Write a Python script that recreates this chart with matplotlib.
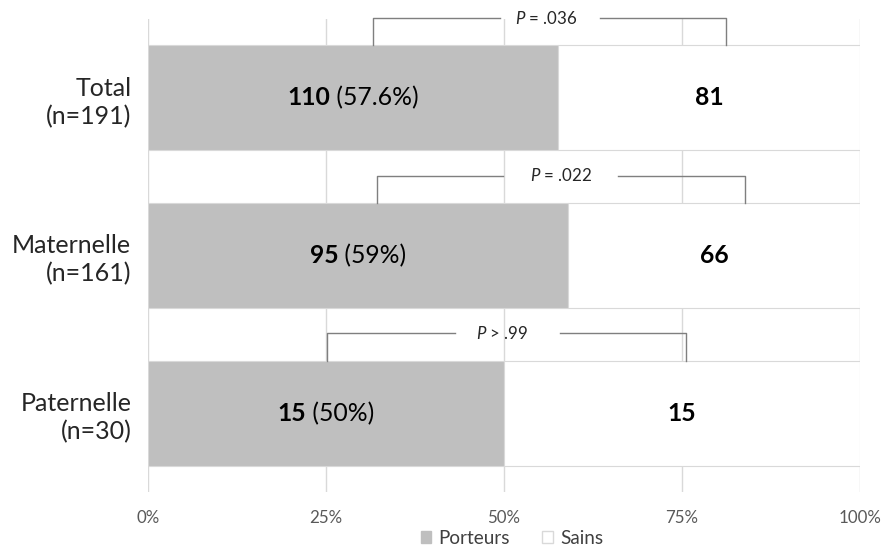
import matplotlib.pyplot as plt
import numpy as np
from matplotlib.offsetbox import TextArea, HPacker, AnnotationBbox
from matplotlib.patches import Patch

# donnees
categories = ["Total\n(n=191)", "Maternelle\n(n=161)", "Paternelle\n(n=30)"]
porteurs = [110, 95, 15]
sains = [81, 66, 15]
pct_labels = ["57.6%", "59%", "50%"]
p_labels = ["$P$ = .036", "$P$ = .022", "$P$ > .99"]
xticks_labels = ["0%", "25%", "50%", "75%", "100%"]

# crochets : (gauche, fin trait gauche, debut trait droit, droite, centre texte) en %
brackets = [
    (31.6, 49.4, 63.5, 81.2, 56.0),
    (32.2, 49.9, 66.0, 83.8, 58.0),
    (25.1, 43.1, 57.9, 75.6, 49.7),
]

plt.rcParams['font.family'] = ['Lato', 'DejaVu Sans']
plt.rcParams['mathtext.fontset'] = 'custom'
plt.rcParams['mathtext.it'] = 'Lato:italic'
plt.rcParams['mathtext.rm'] = 'Lato'

fig = plt.figure(figsize=(8.84, 5.49), dpi=100)
ax = fig.add_axes([148 / 884, 1 - 492 / 549, 712 / 884, 473 / 549])

porteurs = np.array(porteurs)
sains = np.array(sains)
total = porteurs + sains
f_port = porteurs / total * 100
f_sain = sains / total * 100
y = np.arange(len(categories))
h = 0.665

ax.barh(y, f_port, height=h, color='#bfbfbf', edgecolor='#d9d9d9', linewidth=0.8, zorder=2)
ax.barh(y, f_sain, left=f_port, height=h, color='white', edgecolor='#d9d9d9', linewidth=0.8, zorder=2)

ax.set_xlim(0, 100)
ax.set_ylim(2.5, -0.5)
ax.set_xticks([0, 25, 50, 75, 100])
ax.set_xticklabels(xticks_labels, color='#595959', fontsize=12.2)
ax.set_yticks(y)
ax.set_yticklabels(categories, fontsize=18, color='#262626', linespacing=1.25)
ax.tick_params(axis='both', length=0)
ax.tick_params(axis='y', pad=12)
ax.tick_params(axis='x', pad=13)
for s in ax.spines.values():
    s.set_visible(False)
ax.grid(axis='x', color='#d9d9d9', linewidth=1, zorder=0)
ax.set_axisbelow(True)

# etiquettes des barres
for i in range(len(categories)):
    box = HPacker(children=[
        TextArea(str(porteurs[i]), textprops=dict(fontsize=17.8, fontweight='bold', color='black')),
        TextArea(" (" + pct_labels[i] + ")", textprops=dict(fontsize=17.8, color='black')),
    ], align='baseline', pad=0, sep=0)
    ab = AnnotationBbox(box, (f_port[i] / 2, y[i]), frameon=False, box_alignment=(0.5, 0.5), zorder=5)
    ax.add_artist(ab)
    ax.text(f_port[i] + f_sain[i] / 2, y[i], str(sains[i]), ha='center', va='center',
            fontsize=17.8, fontweight='bold', color='black', zorder=5)

# crochets P
for i, (xl, g1, g2, xr, xt) in enumerate(brackets):
    top = y[i] - 0.5 - 0.006
    bot = y[i] - h / 2
    kw = dict(color='#7f7f7f', linewidth=1, clip_on=False, zorder=4)
    ax.plot([xl, xl, g1], [bot, top, top], **kw)
    ax.plot([g2, xr, xr], [top, top, bot], **kw)
    ax.text(xt, top, p_labels[i], ha='center', va='center', fontsize=12.2, color='#262626', clip_on=False)

handles = [Patch(facecolor='#bfbfbf', edgecolor='#bfbfbf', label='Porteurs'),
           Patch(facecolor='white', edgecolor='#d9d9d9', label='Sains')]
fig.legend(handles=handles, loc='center', bbox_to_anchor=(512 / 884, 1 - 538 / 549), ncol=2,
           frameon=False, fontsize=13.6, handlelength=0.55, handleheight=0.55, handletextpad=0.4,
           columnspacing=1.7, labelcolor='#404040')

fig.savefig('out.png', dpi=100)
